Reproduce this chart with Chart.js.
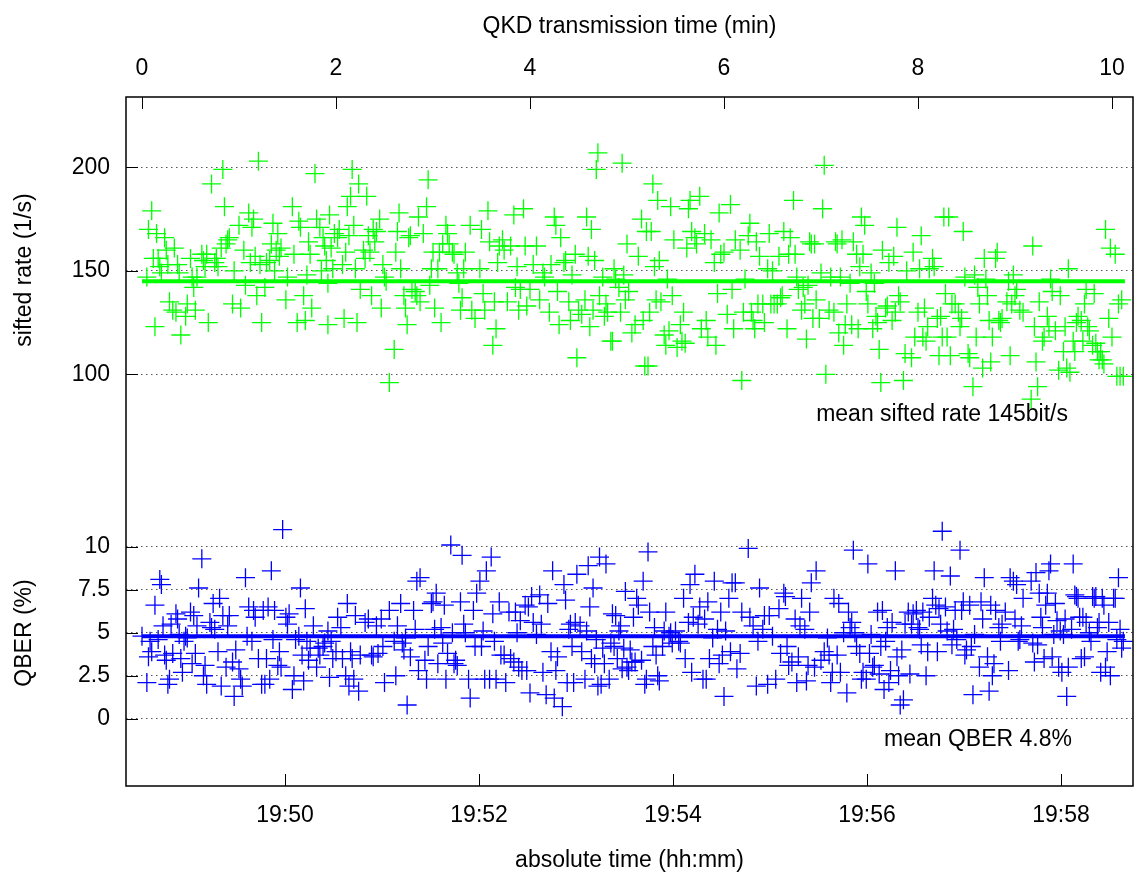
<!DOCTYPE html>
<html>
<head>
<meta charset="utf-8">
<title>QKD sifted rate and QBER</title>
<script src="https://cdn.jsdelivr.net/npm/chart.js@4.4.1/dist/chart.umd.min.js"></script>
<style>
  html, body { margin: 0; padding: 0; background: #fff; }
  #wrap { width: 1134px; height: 879px; }
</style>
</head>
<body>
<div id="wrap"><canvas id="qkd" width="1134" height="879"></canvas></div>
<script>
// sample times, seconds since the start of the transmission
const siftedTime = [
  3, 4, 6, 7, 8, 9, 10, 11, 12, 14,
  15, 16, 17, 19, 20, 21, 22, 23, 24, 27,
  28, 30, 31, 32, 33, 34, 37, 38, 39, 40,
  41, 43, 45, 46, 47, 49, 50, 51, 52, 53,
  54, 56, 57, 60, 61, 63, 64, 66, 67, 68,
  69, 70, 71, 72, 73, 74, 76, 77, 79, 80,
  81, 82, 83, 84, 85, 86, 89, 90, 93, 94,
  96, 97, 98, 100, 101, 102, 103, 104, 105, 107,
  108, 110, 111, 112, 113, 114, 115, 115, 116,
  117, 118, 119, 121, 122, 124, 125, 126, 127, 128,
  129, 130, 131, 132, 133, 134, 135, 137, 138, 139,
  140, 141, 142, 143, 144, 145, 147, 148, 149, 150,
  151, 153, 156, 157, 158, 159, 160, 162, 163, 164,
  165, 166, 167, 169, 170, 171, 172, 174, 176, 177,
  178, 179, 180, 181, 183, 184, 185, 186, 188, 189,
  190, 192, 193, 195, 196, 197, 198, 199, 200, 203,
  204, 206, 209, 210, 211, 212, 214, 215, 217, 218,
  219, 220, 221, 223, 224, 226, 228, 230, 231, 232,
  233, 234, 236, 237, 238, 240, 242,
  244, 246, 248, 249, 252, 253, 255, 256, 257, 258,
  259, 261, 262, 264, 265, 266, 268, 269, 270, 272,
  274, 275, 276, 277, 278, 279, 280, 281, 282, 283,
  285, 286, 287, 288, 290, 291, 292, 293, 295, 296,
  297, 298, 299, 300, 301, 303, 305, 307, 309, 310,
  311, 312, 313, 314, 315, 316, 317, 318, 319, 320,
  321, 323, 324, 325, 326, 327, 328, 329, 331, 333,
  334, 335, 336, 337, 338, 339, 340, 342, 343, 345,
  346, 348, 349, 350, 352, 354, 355, 356, 357, 358,
  360, 362, 364, 365, 366, 367,
  370, 371, 372, 373, 375, 376, 377, 378, 379, 380,
  381, 382, 384, 385, 387, 388, 389, 390, 391, 393,
  394, 395, 396, 397, 399, 400, 401, 403, 404, 405,
  406, 408, 409, 410, 411, 412, 413, 414, 415, 416,
  417, 419, 420, 421, 422, 423, 425, 426, 428, 429,
  430, 431, 432, 433, 434, 435, 436, 438, 439, 440,
  442, 443, 444, 445, 446, 447, 448, 449, 451, 452,
  453, 454, 455, 456, 457, 458, 460, 461, 462, 464,
  465, 466, 467, 468, 469, 471, 472, 473, 476, 477,
  478, 480, 481, 482, 483, 484, 485, 486, 487, 489,
  490, 492, 493, 494, 495, 496,
  497, 498, 499, 500, 501, 503, 505, 506, 507, 508,
  509, 511, 512, 514, 515, 516, 517, 518, 520, 521,
  522, 523, 524, 525, 526, 528, 529, 530, 531, 532,
  535, 536, 537, 538, 539, 540, 541, 543, 545, 550,
  551, 552, 553, 554, 555, 557, 558, 560, 561, 562,
  563, 565, 567, 568, 570, 571, 572, 573, 574, 576,
  577, 578, 579, 581, 582, 583, 584, 585, 586, 588,
  589, 590, 591, 592, 593, 594, 595, 596, 598, 599,
  600, 602, 603, 604, 605, 606, 607
];
// sifted key rate, 1/s
const siftedRate = [
  147, 170, 179, 156, 123, 168, 156, 152, 149, 166,
  160, 153, 135, 131, 161, 130, 153, 149, 119, 128,
  134, 156, 147, 142, 131, 147, 158, 155, 152, 158,
  125, 192, 154, 156, 152, 161, 199, 181, 163, 165,
  166, 134, 150, 172, 132, 160, 143, 178, 154, 171,
  175, 157, 138, 203, 153, 125, 142, 154, 155, 163,
  173, 150, 160, 168, 157, 161, 136, 147, 181, 158,
  125, 174, 171, 138, 126, 148, 164, 158, 132, 197,
  175, 171, 150, 166, 162, 155, 124, 144, 177,
  161, 151, 168, 166, 170, 153, 127, 159, 181, 167,
  186, 199, 172, 151, 125, 192, 141, 160, 156, 186,
  167, 159, 138, 170, 164, 169, 175, 132, 153, 147,
  145, 96, 112, 159, 169, 178, 151, 138, 132, 124,
  166, 167, 141, 140, 138, 176, 135, 168, 181, 194,
  143, 151, 159, 132, 151, 159, 125, 163, 172, 168,
  163, 159, 158, 149, 144, 131, 137, 151, 159, 172,
  131, 127, 151, 170, 139, 131, 179, 164, 114, 135,
  122, 154, 162, 165, 160, 135, 162, 177, 142, 152,
  131, 141, 180, 162, 133, 141, 153,
  162, 136, 149, 147, 130, 153, 176, 172, 140, 124,
  166, 154, 155, 135, 126, 148, 158, 108, 131, 129,
  136, 176, 157, 123, 170, 131, 155, 199, 207, 138,
  147, 128, 134, 130, 116, 116, 151, 146, 142, 130,
  202, 148, 136, 163, 140, 120, 124, 157, 175, 126,
  104, 169, 104, 130, 169, 192, 152, 136, 184, 155,
  135, 119, 114, 146, 121, 181, 138, 165, 113, 124,
  116, 130, 115, 161, 180, 184, 169, 166, 163, 186,
  122, 168, 126, 118, 165, 154, 114, 139, 178, 158,
  159, 129, 182, 141, 122, 165,
  160, 97, 130, 146, 167, 173, 130, 126, 122, 164,
  134, 157, 134, 125, 151, 168, 134, 150, 134, 134,
  157, 137, 138, 169, 122, 158, 166, 184, 158, 147,
  141, 131, 142, 134, 117, 143, 164, 163, 127, 163,
  136, 127, 149, 180, 201, 100, 131, 147, 130, 164,
  163, 120, 147, 165, 114, 124, 134, 144, 124, 164,
  158, 122, 152, 176, 158, 172, 140, 134, 149, 122,
  144, 128, 125, 112, 96, 160, 132, 133, 154, 126,
  157, 130, 171, 138, 135, 97, 110, 150, 108, 159,
  118, 130, 151, 167, 118, 132, 116, 123, 151, 156,
  152, 127, 109, 128, 118, 176,
  139, 118, 176, 109, 134, 134, 130, 123, 127, 169,
  147, 110, 108, 94, 148, 118, 142, 134, 103, 156,
  146, 138, 126, 106, 118, 156, 159, 126, 125, 127,
  135, 145, 109, 134, 148, 138, 141, 131, 130, 88,
  162, 123, 106, 94, 135, 116, 118, 128, 123, 146,
  140, 121, 102, 138, 111, 123, 103, 151, 101, 116,
  111, 125, 128, 126, 116, 134, 141, 123, 121, 114,
  139, 115, 111, 107, 111, 107, 105, 170, 127, 161,
  118, 158, 99, 134, 99, 136, 99
];

const qberTime = [
  0, 3, 4, 5, 6, 8, 10, 11, 12, 13,
  14, 15, 16, 17, 18, 19, 21, 22, 23, 24,
  25, 26, 27, 28, 30, 31, 32, 33, 34, 35,
  37, 38, 39, 40, 42, 43, 44, 45, 47, 48,
  49, 50, 52, 53, 54, 56, 57, 58, 60, 61,
  62, 64, 65, 66, 68, 69, 70, 72, 74, 75,
  76, 77, 78, 79, 80, 81, 82, 84, 85, 86,
  87, 89, 90, 91, 93, 94, 95, 97, 98, 99,
  100, 101, 102, 103, 104, 106, 108, 109, 110, 112,
  113, 115, 116,
  117, 118, 120, 121, 123, 124, 126, 127, 128, 129,
  130, 131, 132, 134, 135, 138, 140, 142, 143, 145,
  146, 148, 149, 150, 153, 156, 157, 158, 160, 161,
  162, 163, 164, 166, 168, 169, 170, 171, 172, 175,
  176, 177, 179, 180, 181, 182, 183, 185, 186, 187,
  188, 189, 191, 192, 193, 194, 195, 197, 198, 199,
  200, 202, 203, 205, 206, 207, 209, 210, 211, 212,
  213, 215, 216, 217, 218, 219, 221, 222, 224, 225,
  227, 228, 230, 231, 232, 233, 234, 235, 237, 238,
  239, 240, 241, 242,
  244, 246, 247, 248, 250, 251, 253, 254, 255, 256,
  257, 260, 261, 262, 263, 264, 265, 266, 267, 268,
  269, 271, 272, 274, 275, 276, 277, 278, 279, 280,
  281, 282, 283, 284, 285, 286, 287, 289, 290, 291,
  292, 293, 294, 295, 296, 297, 298, 299, 300, 301,
  302, 303, 304, 305, 306, 307, 309, 310, 311, 312,
  313, 314, 316, 317, 318, 319, 320, 322, 323, 324,
  326, 327, 328, 330, 332, 333, 335, 336, 338, 339,
  340, 341, 342, 344, 345, 347, 348, 349, 350, 351,
  353, 354, 356, 357, 358, 359, 360, 361, 363, 364,
  365, 367, 368,
  370, 371, 375, 376, 378, 380, 381, 382, 384, 385,
  387, 388, 390, 392, 394, 395, 397, 398, 399, 400,
  402, 404, 405, 406, 407, 408, 410, 411, 412, 413,
  414, 416, 417, 420, 422, 424, 425, 426, 427, 428,
  430, 431, 432, 434, 436, 437, 438, 439, 440, 441,
  442, 444, 445, 446, 448, 449, 450, 451, 452, 453,
  455, 456, 457, 458, 459, 460, 461, 462, 463, 464,
  466, 467, 468, 469, 470, 471, 472, 474, 475, 476,
  477, 479, 480, 481, 482, 483, 485, 486, 487, 489,
  490, 491, 492, 493, 494, 495,
  497, 498, 500, 501, 502, 503, 504, 506, 507, 508,
  509, 510, 512, 513, 514, 515, 518, 519, 520, 521,
  523, 524, 525, 526, 527, 528, 530, 531, 532, 534,
  536, 537, 539, 540, 541, 542, 543, 544, 545, 550,
  551, 552, 553, 554, 555, 556, 557, 558, 559, 560,
  561, 562, 563, 564, 565, 566, 567, 568, 569, 570,
  571, 572, 573, 575, 576, 577, 578, 579, 580, 581,
  582, 583, 584, 586, 587, 588, 589, 590, 591, 592,
  593, 594, 595, 596, 597, 598, 599, 601, 602, 603,
  604, 605, 606, 607
];
// quantum bit error rate, %
const qberValue = [
  4.8, 2.1, 3.6, 4.5, 3.9, 6.6, 4.6, 8.1, 7.8, 5.4,
  3.7, 3.4, 2.0, 2.3, 5.5, 3.8, 6.1, 5.8, 4.9, 3.5,
  2.7, 4.5, 4.8, 4.7, 6.2, 3.2, 6.0, 3.8, 5.4, 7.6,
  9.3, 2.5, 3.1, 2.0, 5.6, 5.3, 6.7, 5.2, 3.9, 7.0,
  1.9, 6.0, 3.0, 5.4, 6.0, 3.3, 1.3, 4.0, 2.9, 2.3,
  1.9, 8.2, 4.8, 6.5, 4.5, 6.3, 5.9, 3.5, 2.0, 6.3,
  2.0, 3.5, 6.5, 2.3, 8.6, 4.6, 6.3, 3.1, 3.9, 3.0,
  11.0, 5.9, 5.5, 6.1, 1.7, 2.5, 4.6, 4.8, 7.6, 3.7,
  2.2, 6.4, 4.5, 3.4, 4.1, 5.4, 3.0, 4.1, 3.7, 4.2,
  4.4, 5.1, 2.4,
  4.5, 3.5, 3.9, 5.9, 5.3, 3.5, 2.5, 6.7, 1.9, 3.9,
  3.5, 2.3, 6.0, 1.6, 3.7, 5.6, 5.8, 3.7, 3.6, 5.4,
  3.8, 5.8, 4.2, 2.1, 6.3, 4.5, 2.5, 5.4, 6.7, 4.4,
  4.0, 4.7, 0.8, 3.6, 6.3, 5.2, 8.0, 2.8, 8.2, 3.4,
  2.3, 4.2, 6.7, 6.8, 5.2, 7.3, 3.2, 5.3, 4.4, 6.6,
  2.3, 3.8, 10.1, 5.0, 3.2, 3.4, 3.1, 6.8, 9.5, 5.5,
  5.0, 2.3, 1.2, 6.3, 4.2, 7.3, 8.0, 4.2, 5.1, 2.3,
  8.6, 2.3, 9.4, 6.1, 4.5, 2.3, 6.8, 3.7, 3.7, 2.1,
  6.2, 3.5, 3.3, 6.2, 5.0, 3.0, 5.7, 2.8, 6.6, 2.8,
  6.5, 1.5, 7.1, 5.6,
  4.9, 7.2, 5.5, 2.7, 1.4, 6.7, 3.9, 8.6, 1.2, 2.8,
  3.6, 0.7, 7.8, 6.9, 2.1, 5.2, 5.5, 4.2, 2.1, 5.6,
  8.4, 5.4, 3.9, 2.3, 5.1, 8.9, 6.5, 3.5, 7.6, 3.2,
  4.6, 1.9, 9.4, 2.0, 4.1, 3.2, 9.0, 2.3, 4.4, 6.1,
  4.2, 6.0, 3.5, 5.1, 5.4, 2.9, 4.1, 7.4, 3.0, 2.8,
  4.0, 3.3, 5.9, 3.3, 7.0, 6.6, 3.4, 8.0, 2.0, 2.3,
  9.7, 6.2, 4.2, 5.3, 3.7, 2.5, 2.2, 4.2, 5.1, 6.2,
  4.8, 5.0, 4.4, 5.1, 4.5, 4.4, 7.0, 3.5, 5.6, 7.8,
  2.7, 5.9, 8.4, 5.5, 6.5, 2.3, 5.8, 2.3, 6.8, 3.5,
  4.7, 8.0, 5.2, 3.2, 6.2, 3.7, 1.3, 5.1, 7.0, 3.9,
  7.9, 7.9, 2.9,
  3.8, 6.2, 9.9, 5.9, 5.4, 1.9, 4.5, 7.6, 5.2, 6.0,
  2.0, 6.0, 4.8, 2.3, 6.4, 3.8, 7.3, 7.1, 4.2, 3.1,
  3.3, 5.8, 2.1, 3.6, 5.4, 7.0, 5.2, 2.2, 3.1, 6.2,
  7.9, 3.0, 8.6, 3.4, 3.9, 4.7, 3.7, 2.1, 2.7, 7.0,
  3.7, 6.7, 2.7, 5.0, 1.5, 6.2, 5.3, 5.6, 9.8, 5.0,
  4.2, 3.8, 2.3, 2.7, 2.3, 9.0, 3.8, 4.9, 3.0, 3.1,
  6.2, 2.6, 4.2, 6.3, 1.7, 4.5, 5.3, 2.1, 2.8, 5.6,
  8.6, 3.6, 2.5, 0.8, 4.0, 1.1, 5.5, 6.2, 2.6, 5.5,
  6.1, 6.3, 5.3, 5.2, 4.3, 6.2, 2.5, 3.9, 5.9, 7.0,
  8.6, 6.6, 3.9, 6.4, 5.5, 10.9,
  6.5, 5.1, 8.3, 4.3, 5.2, 6.3, 4.6, 9.8, 6.3, 6.8,
  3.7, 4.0, 6.6, 4.2, 1.4, 4.9, 3.0, 6.8, 5.8, 8.2,
  3.6, 1.6, 6.6, 2.5, 3.2, 6.3, 5.3, 4.5, 5.5, 6.2,
  2.8, 8.2, 8.0, 5.8, 7.8, 4.5, 4.6, 5.4, 7.0, 8.0,
  4.4, 3.3, 8.5, 4.3, 7.3, 5.9, 5.3, 3.5, 6.6, 7.3,
  8.6, 9.0, 3.6, 4.9, 6.7, 5.7, 3.0, 5.1, 2.7, 4.9,
  5.8, 1.3, 3.0, 5.2, 9.0, 7.2, 7.1, 7.0, 5.9, 3.5,
  5.9, 3.6, 5.6, 5.0, 4.5, 7.1, 7.0, 7.1, 5.3, 5.6,
  2.7, 7.0, 6.6, 3.0, 3.9, 5.6, 2.5, 7.0, 7.0, 4.6,
  8.2, 5.2, 4.1, 4.5
];

const siftedMean = 145;   // bit/s
const qberMean = 4.8;     // %
const runEnd = 608;       // s, last sample
const clockStart = 19 * 3600 + 48 * 60 + 31.5;  // 19:48:31.5

const minuteTicks = [0, 2, 4, 6, 8, 10];
const siftedTicks = [100, 150, 200];
const qberTicks = [0, 2.5, 5, 7.5, 10];

const GREEN = '#00ff00';
const BLUE = '#0000ff';
const FONT = '"Liberation Sans", Arial, Helvetica, sans-serif';
const FONT_SIZE = 23;

Chart.defaults.font.family = FONT;
Chart.defaults.font.size = FONT_SIZE;
Chart.defaults.color = '#000';

const toPoints = (xs, ys) => xs.map((x, i) => ({ x, y: ys[i] }));

const clockLabel = v => {
  const sec = Math.round(clockStart + v);
  const h = Math.floor(sec / 3600);
  const m = Math.floor((sec % 3600) / 60);
  return h + ':' + String(m).padStart(2, '0');
};

// gnuplot style frame: ticks pointing inwards, solid border, mean labels
const gnuFrame = {
  id: 'gnuFrame',
  afterDraw(chart) {
    const { ctx, chartArea: a, scales } = chart;
    const len = 12;
    ctx.save();
    ctx.strokeStyle = '#000';
    ctx.lineWidth = 1;
    ctx.beginPath();
    scales.x.ticks.forEach(t => {
      const px = Math.round(scales.x.getPixelForValue(t.value)) + 0.5;
      ctx.moveTo(px, a.bottom); ctx.lineTo(px, a.bottom - len);
    });
    scales.x2.ticks.forEach(t => {
      const px = Math.round(scales.x2.getPixelForValue(t.value)) + 0.5;
      ctx.moveTo(px, a.top); ctx.lineTo(px, a.top + len);
    });
    ['rate', 'qber'].forEach(id => {
      scales[id].ticks.forEach(t => {
        const py = Math.round(scales[id].getPixelForValue(t.value)) + 0.5;
        ctx.moveTo(a.left, py); ctx.lineTo(a.left + len, py);
      });
    });
    ctx.stroke();

    ctx.lineWidth = 1.5;
    ctx.strokeRect(a.left, a.top, a.right - a.left, a.bottom - a.top);

    ctx.fillStyle = '#000';
    ctx.font = FONT_SIZE + 'px ' + FONT;
    ctx.textAlign = 'left';
    ctx.textBaseline = 'middle';
    ctx.fillText('mean sifted rate ' + siftedMean + 'bit/s',
      scales.x.getPixelForValue(417), scales.rate.getPixelForValue(80.4));
    ctx.fillText('mean QBER ' + qberMean + '%',
      scales.x.getPixelForValue(459), scales.qber.getPixelForValue(-1.2));
    ctx.restore();
  }
};

// the frame spans the full width; edge labels must not pull it in
const fixHeight = h => s => {
  s.height = h;
  s.paddingLeft = 0;
  s.paddingRight = 0;
};

const leftAxis = {
  type: 'linear',
  position: 'left',
  stack: 'left',
  border: { display: false, dash: [1.5, 3.5] },
  grid: { drawTicks: false, color: '#555', lineWidth: 1 },
  ticks: { padding: 16, callback: v => String(v) },
  afterFit: s => { s.width = 126; s.paddingTop = 0; s.paddingBottom = 0; }
};

new Chart(document.getElementById('qkd'), {
  type: 'scatter',
  data: {
    datasets: [
      {
        label: 'mean sifted rate',
        data: [{ x: 0, y: siftedMean }, { x: runEnd, y: siftedMean }],
        yAxisID: 'rate',
        showLine: true,
        borderColor: GREEN,
        borderWidth: 4,
        pointRadius: 0,
        order: 0
      },
      {
        label: 'sifted rate',
        data: toPoints(siftedTime, siftedRate),
        yAxisID: 'rate',
        pointStyle: 'cross',
        pointRadius: 9.5,
        pointBorderWidth: 1.3,
        pointBorderColor: GREEN,
        borderColor: GREEN,
        order: 1
      },
      {
        label: 'mean QBER',
        data: [{ x: 0, y: qberMean }, { x: runEnd, y: qberMean }],
        yAxisID: 'qber',
        showLine: true,
        borderColor: BLUE,
        borderWidth: 4,
        pointRadius: 0,
        order: 0
      },
      {
        label: 'QBER',
        data: toPoints(qberTime, qberValue),
        yAxisID: 'qber',
        pointStyle: 'cross',
        pointRadius: 9.5,
        pointBorderWidth: 1.3,
        pointBorderColor: BLUE,
        borderColor: BLUE,
        order: 1
      }
    ]
  },
  options: {
    responsive: false,
    animation: false,
    events: [],
    layout: { autoPadding: false, padding: { left: 0, right: 1, top: 0, bottom: 0 } },
    plugins: { legend: { display: false }, tooltip: { enabled: false } },
    scales: {
      x: {
        type: 'linear',
        position: 'bottom',
        min: -9.9,
        max: 613,
        border: { display: false },
        grid: { display: false, drawTicks: false },
        ticks: { padding: 16, callback: v => clockLabel(v) },
        afterBuildTicks: s => {
          const ticks = [];
          const first = Math.ceil(clockStart / 120) * 120 - clockStart;
          for (let v = first; v <= s.max; v += 120) ticks.push({ value: v });
          s.ticks = ticks;
        },
        title: { display: true, text: 'absolute time (hh:mm)', padding: { top: 0, bottom: 5 } },
        afterFit: fixHeight(93)
      },
      x2: {
        type: 'linear',
        position: 'top',
        min: -9.9,
        max: 613,
        border: { display: false },
        grid: { display: false, drawTicks: false },
        ticks: { padding: 15, callback: v => String(v / 60) },
        afterBuildTicks: s => { s.ticks = minuteTicks.map(m => ({ value: m * 60 })); },
        title: { display: true, text: 'QKD transmission time (min)', padding: { top: 13, bottom: 0 } },
        afterFit: fixHeight(97)
      },
      rate: {
        ...leftAxis,
        weight: 3,
        stackWeight: 346,
        min: 66.8,
        max: 234,
        afterBuildTicks: s => { s.ticks = siftedTicks.map(v => ({ value: v })); },
        title: { display: true, text: 'sifted rate (1/s)', padding: { top: 11, bottom: 0 } }
      },
      gap: {
        ...leftAxis,
        weight: 2,
        stackWeight: 37,
        min: 0,
        max: 1,
        grid: { display: false, drawTicks: false },
        ticks: { display: false },
        afterBuildTicks: s => { s.ticks = []; }
      },
      qber: {
        ...leftAxis,
        weight: 1,
        stackWeight: 306,
        min: -3.91,
        max: 13.88,
        afterBuildTicks: s => { s.ticks = qberTicks.map(v => ({ value: v })); },
        title: { display: true, text: 'QBER (%)', padding: { top: 11, bottom: 0 } }
      }
    }
  },
  plugins: [gnuFrame]
});
</script>
</body>
</html>
